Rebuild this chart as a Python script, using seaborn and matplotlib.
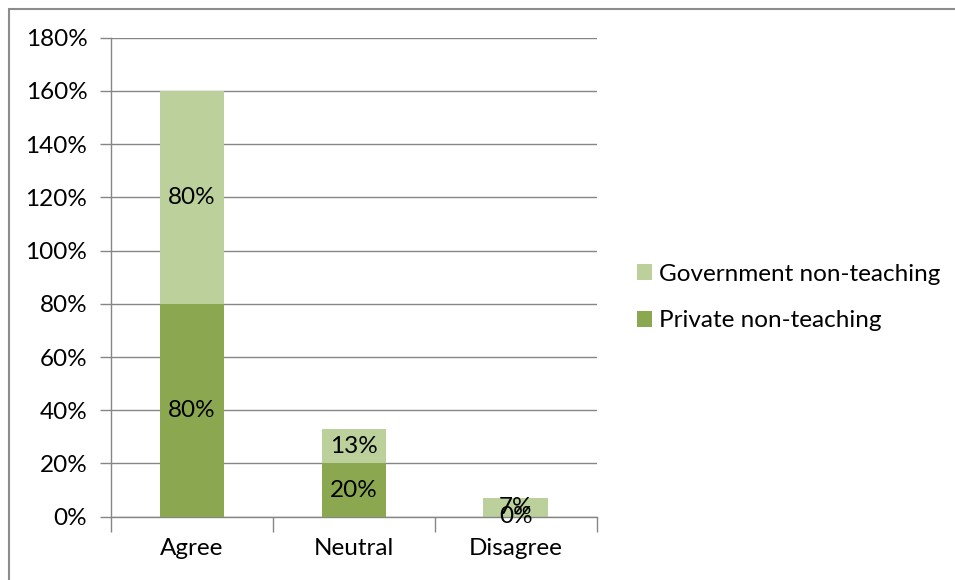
import numpy
import pandas
import seaborn
from matplotlib import pyplot
from matplotlib.lines import Line2D
from matplotlib.ticker import FuncFormatter

# data
categories = ['Agree', 'Neutral', 'Disagree']
private_values = [80, 20, 0]
government_values = [80, 13, 7]
series_names = ['Private non-teaching', 'Government non-teaching']
y_ticks = [0, 20, 40, 60, 80, 100, 120, 140, 160, 180]

PRIVATE_COLOR = '#8BA850'
GOVERNMENT_COLOR = '#BBD09A'
GRID_COLOR = '#868686'
FONT_SIZE = 17.5

seaborn.set_style('white')
pyplot.rcParams['font.family'] = ['Lato', 'DejaVu Sans']
pyplot.rcParams['text.color'] = 'black'
pyplot.rcParams['xtick.labelcolor'] = 'black'
pyplot.rcParams['ytick.labelcolor'] = 'black'

data = pandas.DataFrame({
    'category': categories,
    'private': private_values,
    'government': government_values,
})
data['total'] = data['private'] + data['government']

figure = pyplot.figure(figsize=(9.55, 5.8), dpi=100)
axes = figure.add_axes([0.1162, 0.1091, 0.5088, 0.8259])

# stacked bars: draw totals first, then the bottom segment over them
seaborn.barplot(data=data, x='category', y='total', color=GOVERNMENT_COLOR,
                width=0.4, saturation=1, ax=axes, zorder=2, linewidth=0,
                label=series_names[1])
seaborn.barplot(data=data, x='category', y='private', color=PRIVATE_COLOR,
                width=0.4, saturation=1, ax=axes, zorder=3, linewidth=0,
                label=series_names[0])
if axes.get_legend() is not None:
    axes.get_legend().remove()

# value labels centered in each segment
for position, row in data.iterrows():
    axes.text(position, row['private'] / 2, f"{row['private']}%",
              ha='center', va='center', fontsize=FONT_SIZE, zorder=5)
    axes.text(position, row['private'] + row['government'] / 2,
              f"{row['government']}%",
              ha='center', va='center', fontsize=FONT_SIZE, zorder=5)

# axes decorations
axes.set_ylim(0, 180)
axes.set_xlim(-0.5, 2.5)
axes.set_yticks(y_ticks)
axes.yaxis.set_major_formatter(FuncFormatter(lambda v, _: f'{v:.0f}%'))
axes.set_xlabel('')
axes.set_ylabel('')
axes.grid(axis='y', color=GRID_COLOR, linewidth=1, zorder=0)
axes.set_axisbelow(True)
for side in ['top', 'right']:
    axes.spines[side].set_visible(False)
for side in ['left', 'bottom']:
    axes.spines[side].set_color(GRID_COLOR)
    axes.spines[side].set_linewidth(1)

axes.tick_params(axis='y', length=8, width=1, color=GRID_COLOR,
                 labelsize=FONT_SIZE, pad=9, left=True)
axes.set_xticks([0, 1, 2])
axes.set_xticklabels(categories)
axes.set_xticks([-0.5, 0.5, 1.5, 2.5], minor=True)
axes.tick_params(axis='x', which='major', length=0,
                 labelsize=FONT_SIZE, pad=15)
axes.tick_params(axis='x', which='minor', length=11, width=1,
                 color=GRID_COLOR, bottom=True, direction='out')

# legend on the right, government first
handles, labels = axes.get_legend_handles_labels()
order = [labels.index(series_names[1]), labels.index(series_names[0])]
figure.legend([handles[i] for i in order], [labels[i] for i in order],
              loc='center left', bbox_to_anchor=(0.644, 0.487),
              frameon=False, fontsize=FONT_SIZE, handlelength=0.62,
              handleheight=0.62, handletextpad=0.3, labelspacing=1.05)

# outer chart frame (left and top only)
figure.add_artist(Line2D([9 / 955, 9 / 955], [0, 1 - 9 / 580],
                         color='#8C8C8C', linewidth=1.5))
figure.add_artist(Line2D([9 / 955, 1], [1 - 9 / 580, 1 - 9 / 580],
                         color='#8C8C8C', linewidth=1.5))

figure.savefig('out.png', dpi=100)
pyplot.close()
